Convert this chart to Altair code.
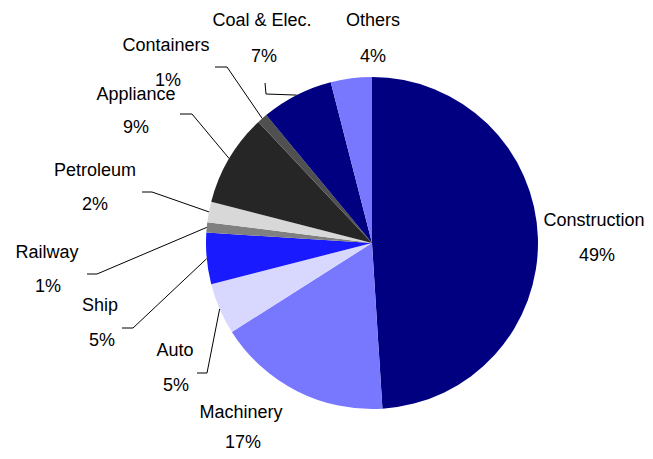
import math
import altair as alt
import pandas as pd

# ---- data ----
categories = ["Construction", "Machinery", "Auto", "Ship", "Railway",
              "Petroleum", "Appliance", "Containers", "Coal & Elec.", "Others"]
shares = [49, 17, 5, 5, 1, 2, 9, 1, 7, 4]
pct_labels = [f"{s}%" for s in shares]

# ---- styles ----
colors = ["#000080", "#7878FF", "#D8D8FF", "#1A1AFF", "#808080",
          "#D8D8D8", "#262626", "#505050", "#000080", "#7878FF"]

W, H = 637, 443
CX, CY, R = 364, 235, 166  # pie centre / radius in plot coords
FONT = "Liberation Sans"
FS = 18

# annotation layout (page coords): name line centre, percent line centre
label_layout = {
    "Construction": ((594, 221), (597, 256)),
    "Machinery": ((241, 413), (243, 443)),
    "Auto": ((175, 351), (176, 386)),
    "Ship": ((100, 306), (102, 341)),
    "Railway": ((47, 253), (48, 287)),
    "Petroleum": ((95, 171), (95, 205)),
    "Appliance": ((136, 95), (136, 128)),
    "Containers": ((166, 46), (168, 81)),
    "Coal & Elec.": ((262, 21), (264, 57)),
    "Others": ((373, 21), (373, 57)),
}
# leader line: start point and elbow (page coords); end is pie edge at slice mid-angle
leader_layout = {
    "Auto": ((197, 373), (207, 373)),
    "Ship": ((122, 328), (133, 328)),
    "Railway": ((87, 274), (97, 274)),
    "Petroleum": ((142, 192), (152, 192)),
    "Appliance": ((180, 114), (192, 114)),
    "Containers": ((215, 67), (227, 67)),
    "Coal & Elec.": ((265, 83), (266, 94)),
}
OFF = 8  # page margin

total = sum(shares)
df = pd.DataFrame({"category": categories, "share": shares, "idx": range(len(shares))})

# labels
lab_rows = []
for c, p in zip(categories, pct_labels):
    (nx, ny), (px, py) = label_layout[c]
    lab_rows.append({"name": c, "pct": p, "nx": nx - OFF, "ny": ny - OFF,
                     "px": px - OFF, "py": py - OFF})
lab = pd.DataFrame(lab_rows)

# leader lines
cum = 0
line_rows = []
for c, s in zip(categories, shares):
    mid = (cum + s / 2) / total * 2 * math.pi
    cum += s
    if c in leader_layout:
        (sx, sy), (ex, ey) = leader_layout[c]
        edge_x = CX + R * math.sin(mid)
        edge_y = CY - R * math.cos(mid)
        line_rows += [
            {"category": c, "o": 0, "x": sx - OFF, "y": sy - OFF},
            {"category": c, "o": 1, "x": ex - OFF, "y": ey - OFF},
            {"category": c, "o": 2, "x": edge_x, "y": edge_y},
        ]
lines = pd.DataFrame(line_rows)

xs = alt.Scale(domain=[0, W], nice=False, zero=False)
ys = alt.Scale(domain=[0, H], nice=False, zero=False, reverse=True)

pie = alt.Chart(df).mark_arc(radius=R, strokeWidth=0).encode(
    theta=alt.Theta("share:Q", stack=True),
    color=alt.Color("category:N", scale=alt.Scale(domain=categories, range=colors), legend=None),
    order=alt.Order("idx:Q"),
    x=alt.value(CX),
    y=alt.value(CY),
)

leaders = alt.Chart(lines).mark_line(color="black", strokeWidth=1).encode(
    x=alt.X("x:Q", scale=xs, axis=None),
    y=alt.Y("y:Q", scale=ys, axis=None),
    detail="category:N",
    order="o:Q",
)

names = alt.Chart(lab).mark_text(font=FONT, fontSize=FS, color="black", baseline="middle").encode(
    x=alt.X("nx:Q", scale=xs, axis=None),
    y=alt.Y("ny:Q", scale=ys, axis=None),
    text="name:N",
)
pcts = alt.Chart(lab).mark_text(font=FONT, fontSize=FS, color="black", baseline="middle").encode(
    x=alt.X("px:Q", scale=xs, axis=None),
    y=alt.Y("py:Q", scale=ys, axis=None),
    text="pct:N",
)

chart = alt.layer(pie, leaders, names, pcts).properties(
    width=W, height=H, padding=0, autosize=alt.AutoSizeParams(type="none")
).configure_view(stroke=None)

chart.save("out.html", embed_options={"renderer": "svg", "actions": False})
